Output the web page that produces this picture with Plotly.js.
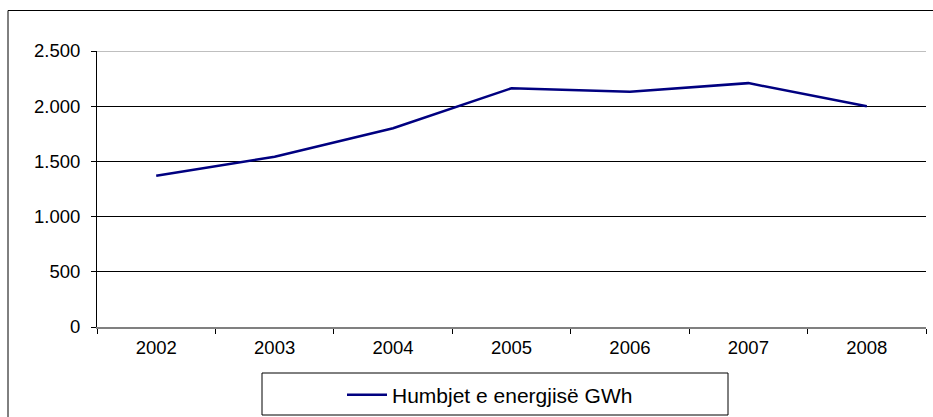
<!DOCTYPE html>
<html>
<head>
<meta charset="utf-8">
<script src="https://cdn.plot.ly/plotly-3.0.1.min.js"></script>
<style>
  html, body { margin: 0; padding: 0; background: #fff; }
  #chart { width: 933px; height: 417px; }
</style>
</head>
<body>
<div id="chart"></div>
<script>
const years = ['2002', '2003', '2004', '2005', '2006', '2007', '2008'];
const losses = [1370, 1543, 1800, 2163, 2132, 2209, 2000];
const seriesName = 'Humbjet e energjisë GWh';
const yTicks = [0, 500, 1000, 1500, 2000, 2500];

const trace = {
  x: years,
  y: losses,
  type: 'scatter',
  mode: 'lines',
  name: seriesName,
  line: { color: '#000080', width: 2.5 },
  showlegend: true
};

const layout = {
  width: 933,
  height: 417,
  margin: { l: 97, r: 7, t: 51, b: 90, autoexpand: false },
  paper_bgcolor: '#ffffff',
  plot_bgcolor: '#ffffff',
  separators: ',.',
  font: { family: 'Liberation Sans, Arial, sans-serif', size: 18, color: '#000' },
  xaxis: {
    type: 'category',
    range: [-0.5, 6.5],
    tickson: 'boundaries',
    ticks: 'outside',
    ticklen: 5,
    tickcolor: '#000',
    showgrid: false,
    showline: true,
    linecolor: '#808080',
    linewidth: 2,
    ticklabelstandoff: 3,
    tickfont: { size: 18.5 },
    fixedrange: true
  },
  yaxis: {
    range: [0, 2500],
    tickvals: yTicks,
    tickformat: ',d',
    ticks: 'outside',
    ticklen: 5,
    tickcolor: '#000',
    showgrid: true,
    gridcolor: '#000',
    gridwidth: 1,
    zeroline: false,
    showline: true,
    linecolor: '#000',
    linewidth: 1,
    ticklabelstandoff: 7,
    tickfont: { size: 18.5 },
    fixedrange: true
  },
  showlegend: true,
  legend: {
    orientation: 'h',
    x: (342 - 97) / 829,
    xanchor: 'left',
    y: (327 - 395) / 276,
    yanchor: 'middle',
    bgcolor: 'rgba(0,0,0,0)',
    borderwidth: 0,
    itemwidth: 40,
    font: { size: 21 }
  },
  shapes: [
    { type: 'rect', xref: 'paper', yref: 'paper',
      x0: (8 - 97) / 829, x1: 1.2, y0: -0.6, y1: (327 - 10.5) / 276,
      line: { color: '#000', width: 1 }, fillcolor: 'rgba(0,0,0,0)', layer: 'below' },
    { type: 'rect', xref: 'paper', yref: 'paper',
      x0: (262 - 97) / 829, x1: (728 - 97) / 829,
      y0: (327 - 415) / 276, y1: (327 - 373) / 276,
      line: { color: '#000', width: 1 }, fillcolor: 'rgba(0,0,0,0)', layer: 'below' },
    { type: 'line', xref: 'paper', yref: 'y',
      x0: 0, x1: 1, y0: yTicks[yTicks.length - 1], y1: yTicks[yTicks.length - 1],
      line: { color: '#808080', width: 1 } }
  ]
};

Plotly.newPlot('chart', [trace], layout, { displayModeBar: false, staticPlot: true });
</script>
</body>
</html>
